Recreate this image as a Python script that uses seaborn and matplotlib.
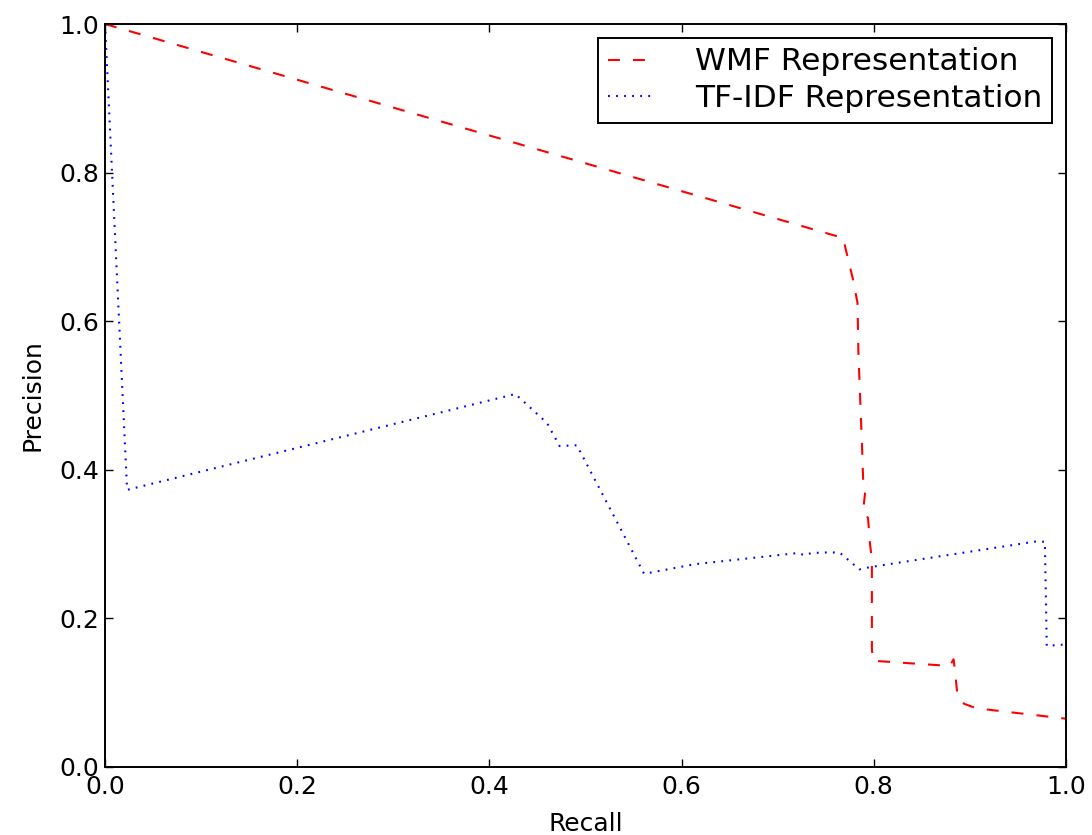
import matplotlib
matplotlib.use("Agg")
import matplotlib.pyplot as plt
import seaborn as sns
import pandas as pd

# WMF representation (red dashed)
wmf_recall = [0.0, 0.768, 0.778, 0.783, 0.784, 0.788, 0.789, 0.791, 0.789, 0.794,
              0.796, 0.798, 0.798, 0.799, 0.879, 0.883, 0.884, 0.887, 0.894, 0.907, 1.0]
wmf_precision = [1.0, 0.712, 0.658, 0.625, 0.557, 0.423, 0.382, 0.370, 0.346, 0.335,
                 0.301, 0.279, 0.160, 0.143, 0.136, 0.145, 0.135, 0.097, 0.085, 0.079, 0.065]

# TF-IDF representation (blue dotted)
tfidf_recall = [0.0, 0.023, 0.427, 0.460, 0.473, 0.491, 0.561, 0.614, 0.721, 0.728,
                0.735, 0.756, 0.765, 0.785, 0.796, 0.971, 0.978, 0.980, 1.0]
tfidf_precision = [1.0, 0.373, 0.502, 0.463, 0.432, 0.433, 0.260, 0.273, 0.288, 0.285,
                   0.288, 0.289, 0.288, 0.266, 0.269, 0.304, 0.303, 0.163, 0.165]

labels = ["WMF Representation", "TF-IDF Representation"]
x_ticks = [0.0, 0.2, 0.4, 0.6, 0.8, 1.0]
y_ticks = [0.0, 0.2, 0.4, 0.6, 0.8, 1.0]

sns.set_style("ticks")
plt.rcParams["font.family"] = ["DejaVu Sans"]
plt.rcParams["lines.scale_dashes"] = False
plt.rcParams["text.color"] = "black"
plt.rcParams["axes.labelcolor"] = "black"

fig = plt.figure(figsize=(10.92, 8.35), dpi=100)
ax = fig.add_axes([105 / 1092, 1 - 767 / 835, (1066 - 105) / 1092, (767 - 24) / 835])

df_w = pd.DataFrame({"Recall": wmf_recall, "Precision": wmf_precision})
df_t = pd.DataFrame({"Recall": tfidf_recall, "Precision": tfidf_precision})

sns.lineplot(data=df_w, x="Recall", y="Precision", sort=False, estimator=None,
             ax=ax, color="#ff0000", linewidth=1.5, dashes=False, label=labels[0])
sns.lineplot(data=df_t, x="Recall", y="Precision", sort=False, estimator=None,
             ax=ax, color="#0000ff", linewidth=1.5, dashes=False, label=labels[1])
ax.lines[0].set_dashes((8.6, 9.4))
ax.lines[1].set_dashes((1.3, 4.5))

ax.set_xlim(0, 1)
ax.set_ylim(0, 1)
ax.set_xticks(x_ticks)
ax.set_yticks(y_ticks)
ax.set_xticklabels([f"{v:.1f}" for v in x_ticks])
ax.set_yticklabels([f"{v:.1f}" for v in y_ticks])
ax.tick_params(direction="in", length=6, width=1, labelsize=18, pad=4,
               top=True, right=True, colors="black")
ax.tick_params(axis="x", pad=6)
for s in ax.spines.values():
    s.set_visible(True)
    s.set_linewidth(1.4)
    s.set_color("black")
ax.set_xlabel("Recall", fontsize=18, labelpad=9, color="black")
ax.set_ylabel("Precision", fontsize=18, labelpad=11, color="black")

leg = ax.legend(loc="upper right", fontsize=22.5, frameon=True, fancybox=False,
                edgecolor="black", framealpha=1, handlelength=1.5,
                handletextpad=1.3, borderaxespad=0.45, borderpad=0.3,
                labelspacing=0.25)
leg.get_frame().set_linewidth(1.4)
for t in leg.get_texts():
    t.set_color("black")
for h in leg.get_lines():
    h.set_linewidth(1.5)
leg.get_lines()[0].set_dashes((8.6, 9.4))
leg.get_lines()[1].set_dashes((1.3, 4.5))

fig.savefig("out.png", dpi=100, facecolor="white")
